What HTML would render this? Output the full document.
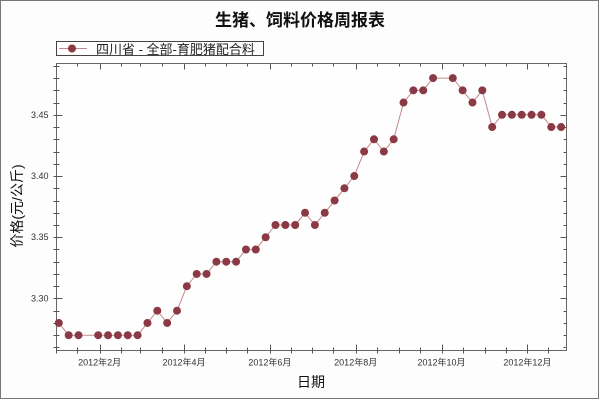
<!DOCTYPE html>
<html><head><meta charset="utf-8"><style>
html,body{margin:0;padding:0;background:#fff}
#wrap{position:relative;width:600px;height:400px;overflow:hidden}
svg text{font-family:"Liberation Sans","Noto Sans CJK SC",sans-serif}
</style></head><body>
<div id="wrap">
<svg id="chart" width="600" height="400" xmlns="http://www.w3.org/2000/svg">
<rect x="0.5" y="0.5" width="598" height="398" fill="#fdfdfd" stroke="#777"/>
<text x="300" y="26" text-anchor="middle" font-size="17" font-weight="bold" fill="#111">生猪、饲料价格周报表</text>
<g>
<rect x="56.5" y="41.5" width="207" height="14" fill="#fff" stroke="#444"/>
<line x1="59" y1="48.5" x2="87" y2="48.5" stroke="#c48a8a" stroke-width="1"/>
<circle cx="72" cy="48.5" r="4" fill="#8b3a45"/>
<text x="96" y="54" font-size="13" fill="#222">四川省 - 全部-育肥猪配合料</text>
</g>
<rect x="56.5" y="63.5" width="510" height="287" fill="#fefefe" stroke="#666"/>
<g id="axes"></g>
<g id="series"></g>
<text transform="translate(22,206) rotate(-90)" text-anchor="middle" font-size="14" fill="#111">价格(元/公斤)</text>
<text x="311" y="387" text-anchor="middle" font-size="14" fill="#111">日期</text>
</svg>
</div>
<script>
const dates = ["2012-01-03","2012-01-10","2012-01-17","2012-01-31","2012-02-07","2012-02-14","2012-02-21","2012-02-28","2012-03-06","2012-03-13","2012-03-20","2012-03-27","2012-04-03","2012-04-10","2012-04-17","2012-04-24","2012-05-01","2012-05-08","2012-05-15","2012-05-22","2012-05-29","2012-06-05","2012-06-12","2012-06-19","2012-06-26","2012-07-03","2012-07-10","2012-07-17","2012-07-24","2012-07-31","2012-08-07","2012-08-14","2012-08-21","2012-08-28","2012-09-04","2012-09-11","2012-09-18","2012-09-25","2012-10-09","2012-10-16","2012-10-23","2012-10-30","2012-11-06","2012-11-13","2012-11-20","2012-11-27","2012-12-04","2012-12-11","2012-12-18","2012-12-25"];
const prices = [3.28,3.27,3.27,3.27,3.27,3.27,3.27,3.27,3.28,3.29,3.28,3.29,3.31,3.32,3.32,3.33,3.33,3.33,3.34,3.34,3.35,3.36,3.36,3.36,3.37,3.36,3.37,3.38,3.39,3.40,3.42,3.43,3.42,3.43,3.46,3.47,3.47,3.48,3.48,3.47,3.46,3.47,3.44,3.45,3.45,3.45,3.45,3.45,3.44,3.44];
const yTicks = [3.30,3.35,3.40,3.45];
const xTickLabels = ["2012年2月","2012年4月","2012年6月","2012年8月","2012年10月","2012年12月"];
const xTickMonths = [2,4,6,8,10,12];

const NS="http://www.w3.org/2000/svg";
const L=56.5,R=566.5,T=63.5,B=350.5;
const yMin=3.2575,yMax=3.4919;
const t0=Date.UTC(2012,0,1), DAY=86400000, pxDay=1.407;
function dayOf(s){const p=s.split("-");return (Date.UTC(+p[0],+p[1]-1,+p[2])-t0)/DAY;}
function xs(d){return 56+d*pxDay;}
function ys(v){return B-(v-yMin)/(yMax-yMin)*(B-T);}
function mk(tag,attrs,parent){const e=document.createElementNS(NS,tag);for(const k in attrs)e.setAttribute(k,attrs[k]);parent.appendChild(e);return e;}
const axes=document.getElementById("axes"), ser=document.getElementById("series");

// y ticks minor every 0.01
for(let i=0;i<=24;i++){
  const v=3.26+i*0.01; if(v>yMax)break;
  const y=Math.round(ys(v))+0.5;
  const major=yTicks.some(t=>Math.abs(t-v)<1e-6);
  const len=major?6:3;
  const t1=mk("line",{x1:L-3,x2:L+len,y1:y,y2:y,stroke:"#555"},axes);
  
  
  const t2=mk("line",{x1:R-len,x2:R,y1:y,y2:y,stroke:"#555"},axes);
  
  
}
yTicks.forEach(v=>{
  const tx=mk("text",{x:L-8,y:ys(v)+3,"text-anchor":"end","font-size":"9",fill:"#333"},axes);
  tx.textContent=v.toFixed(2);
  
  
});
// x ticks: 1st and 16th of each month
for(let m=0;m<12;m++){
  [1,16].forEach(dd=>{
    const d=(Date.UTC(2012,m,dd)-t0)/DAY;
    const x=Math.round(xs(d))+0.5;
    if(x<L||x>R)return;
    const major=dd===1&&xTickMonths.includes(m+1);
    const t=mk("line",{x1:x,x2:x,y1:B-(major?6:3),y2:B+3,stroke:"#555"},axes);
    
    
    const t2=mk("line",{x1:x,x2:x,y1:T,y2:T+(major?6:3),stroke:"#555"},axes);
    
    
  });
}
xTickMonths.forEach((m,i)=>{
  const d=(Date.UTC(2012,m-1,1)-t0)/DAY;
  const tx=mk("text",{x:xs(d),y:B+15,"text-anchor":"middle","font-size":"9",fill:"#333"},axes);
  tx.textContent=xTickLabels[i];
  
  
});
// series
const pts=dates.map((s,i)=>[xs(dayOf(s)),ys(prices[i])]);
const pl=mk("polyline",{points:pts.map(p=>p.join(",")).join(" "),fill:"none",stroke:"#c48a8a","stroke-width":"1"},ser);


pts.forEach(p=>{
  const c=mk("circle",{cx:p[0],cy:p[1],r:"4",fill:"#8b3a45"},ser);
  
  
});
</script>
</body></html>
